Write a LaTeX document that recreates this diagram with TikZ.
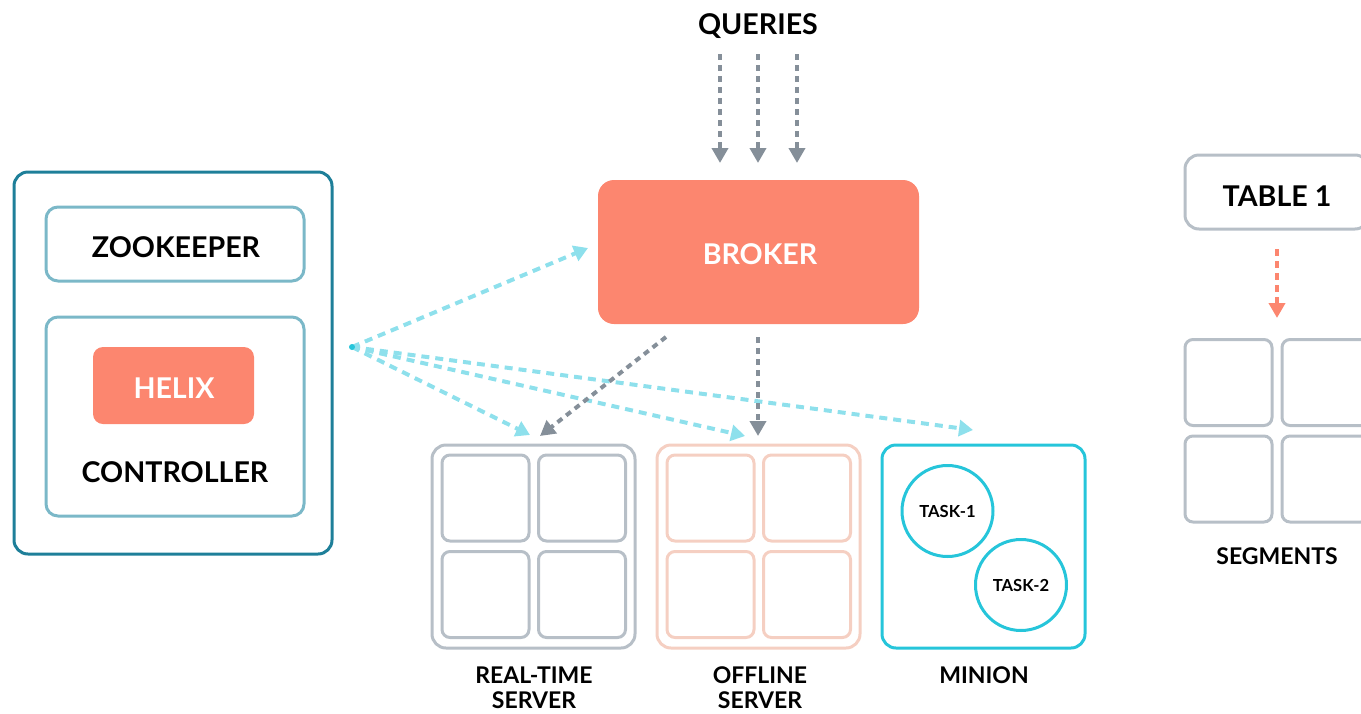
\documentclass[tikz,border=0pt]{standalone}
\usepackage{fontspec}
\setmainfont{Lato}
\usetikzlibrary{arrows.meta}
\definecolor{salmon}{HTML}{FC866F}
\definecolor{dteal}{HTML}{1E7F99}
\definecolor{lteal}{HTML}{7BB8C8}
\definecolor{gbox}{HTML}{B7BFC7}
\definecolor{pinkbox}{HTML}{F5CFC2}
\definecolor{cyanc}{HTML}{26C5DA}
\definecolor{lcyan}{HTML}{8EE0EC}
\definecolor{garrow}{HTML}{858F99}
\tikzset{
  box/.style={draw, line width=1.5pt, rounded corners=7pt, inner sep=0pt},
  cell/.style={draw, line width=1.5pt, rounded corners=4pt, minimum width=43.5pt, minimum height=43pt, inner sep=0pt},
  big/.style={font=\bfseries\fontsize{14.3}{16}\selectfont, inner sep=0pt},
  lab/.style={font=\bfseries\fontsize{11.5}{14}\selectfont, inner sep=0pt},
  tsk/.style={draw=cyanc, line width=1.5pt, circle, minimum size=45.5pt, inner sep=0pt, font=\bfseries\fontsize{8.3}{10}\selectfont},
  cy/.style={draw=lcyan, line width=2pt, dash pattern=on 4pt off 3pt, -{Triangle[width=8pt,length=7pt]}},
  ga/.style={draw=garrow, line width=2pt, dash pattern=on 3pt off 2.5pt, -{Triangle[width=8pt,length=7.5pt]}},
}
\begin{document}
\begin{tikzpicture}[x=0.5pt,y=-0.5pt]
\useasboundingbox (0,0) rectangle (1361,713);
\clip (0,0) rectangle (1361,713);
% controller
\node[box, draw=dteal, minimum width=159pt, minimum height=191pt] (ctrl) at (173,363) {};
\node[box, draw=lteal, rounded corners=6pt, minimum width=129pt, minimum height=37pt] (zk) at (175,244) {};
\node[big] (zktxt) at (176,247) {ZOOKEEPER};
\node[box, draw=lteal, rounded corners=6pt, minimum width=129pt, minimum height=99.5pt] (ctrlin) at (175,416.5) {};
\node[box, draw=none, fill=salmon, rounded corners=5pt, minimum width=80.5pt, minimum height=38.5pt] (helix) at (173.5,385.5) {};
\node[big, text=white] (helixtxt) at (174,388) {HELIX};
\node[big] (ctrltxt) at (175,472) {CONTROLLER};
% broker
\node[box, draw=none, fill=salmon, rounded corners=8pt, minimum width=160.5pt, minimum height=72pt] (broker) at (758.5,252) {};
\node[big, text=white] (brokertxt) at (760,254) {BROKER};
\node[big] (queries) at (758,26) {QUERIES};
\foreach \i/\xx in {1/720,2/758,3/797}{
  \coordinate (qs\i) at (\xx,54);
  \coordinate (qe\i) at (\xx,163);
  \draw[ga] (qs\i) -- (qe\i);
}
% table
\node[box, draw=gbox, minimum width=92pt, minimum height=37pt] (table) at (1277,192) {};
\node[big] (tabletxt) at (1277,196) {TABLE 1};
\coordinate (ts) at (1277,249);
\coordinate (te) at (1277,318);
\draw[draw=salmon, line width=2pt, dash pattern=on 3.5pt off 2.5pt, -{Triangle[width=8pt,length=7.5pt]}] (ts) -- (te);
\foreach \xx in {1228.5,1325.5}{\foreach \yy in {382.5,479}{
  \node[cell, draw=gbox] at (\xx,\yy) {};
}}
\node[lab] (segtxt) at (1277,556) {SEGMENTS};
% real-time server
\node[box, draw=gbox, minimum width=101.5pt, minimum height=101.5pt] (rt) at (533.5,546.5) {};
\foreach \xx in {485.5,582}{\foreach \yy in {498,594.5}{
  \node[cell, draw=gbox] at (\xx,\yy) {};
}}
\node[lab] (rttxt1) at (534,675) {REAL-TIME};
\node[lab] (rttxt2) at (534,700) {SERVER};
% offline server
\node[box, draw=pinkbox, minimum width=101.5pt, minimum height=101.5pt] (off) at (758.5,546.5) {};
\foreach \xx in {710.5,807}{\foreach \yy in {498,594.5}{
  \node[cell, draw=pinkbox] at (\xx,\yy) {};
}}
\node[lab] (offtxt1) at (760,675) {OFFLINE};
\node[lab] (offtxt2) at (760,700) {SERVER};
% minion
\node[box, draw=cyanc, minimum width=101.5pt, minimum height=101.5pt] (min) at (983.5,546.5) {};
\node[tsk] (t1) at (947.5,511) {TASK-1};
\node[tsk] (t2) at (1021,585) {TASK-2};
\node[lab] (mintxt) at (984,675) {MINION};
% cyan connectors
\coordinate (src) at (352,347);
\coordinate (cb) at (588,248);
\coordinate (crt) at (530,435);
\coordinate (coff) at (745,436);
\coordinate (cmin) at (973,430);
\draw[cy] (src) -- (cb);
\draw[cy] (src) -- (crt);
\draw[cy] (src) -- (coff);
\draw[cy] (src) -- (cmin);
\fill[cyanc] (src) circle (1.5pt);
% gray connectors from broker
\coordinate (g1s) at (666,337);
\coordinate (g1e) at (540,436);
\coordinate (g2s) at (758,337);
\coordinate (g2e) at (758,436);
\draw[ga] (g1s) -- (g1e);
\draw[ga] (g2s) -- (g2e);
\end{tikzpicture}
\end{document}
